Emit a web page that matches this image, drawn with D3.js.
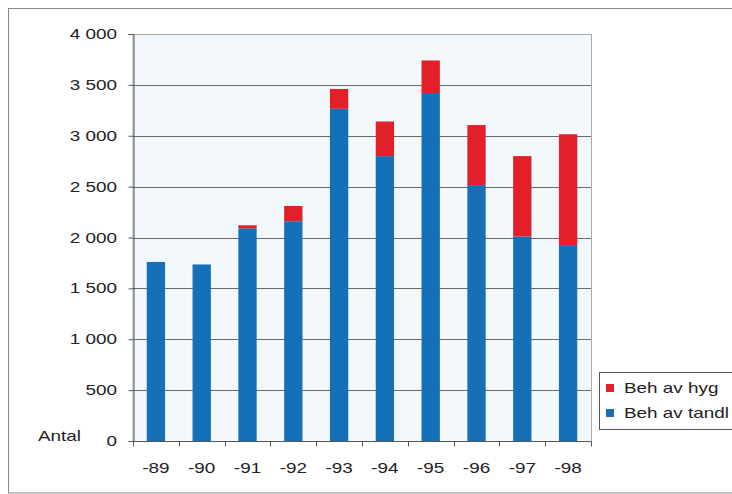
<!DOCTYPE html>
<html>
<head>
<meta charset="utf-8">
<script src="https://cdn.jsdelivr.net/npm/d3@7"></script>
<style>
  html, body { margin: 0; padding: 0; background: #ffffff; }
  svg { display: block; }
  text { font-family: "Liberation Sans", Arial, sans-serif; fill: #222; }
</style>
</head>
<body>
<svg id="chart" width="732" height="494"></svg>
<script>
// Years and the two stacked series (count per year)
const years = ["-89", "-90", "-91", "-92", "-93", "-94", "-95", "-96", "-97", "-98"];
const tandl = [1760, 1735, 2090, 2160, 3265, 2800, 3420, 2515, 2010, 1925];
const hyg   = [0, 0, 30, 150, 195, 340, 320, 590, 790, 1090];
const yTicks = [0, 500, 1000, 1500, 2000, 2500, 3000, 3500, 4000];
const seriesNames = ["Beh av hyg", "Beh av tandl"];
const seriesColors = { tandl: "#1670b8", hyg: "#e2202a" };

const svg = d3.select("#chart");
const plot = { left: 133, right: 591, top: 34, bottom: 441 };
const FONT = 14, STRETCH = 1.35;

// Places a horizontally widened label at (px, py)
function label(parent, px, py, str, anchor) {
  return parent.append("text")
    .attr("transform", `translate(${px},${py}) scale(${STRETCH},1)`)
    .attr("text-anchor", anchor || "start")
    .attr("font-size", FONT)
    .attr("fill", "#2a2a2a")
    .text(str);
}

// Outer chart frame
svg.append("rect")
  .attr("x", 8.5).attr("y", 8.5).attr("width", 760).attr("height", 484.5)
  .attr("fill", "#ffffff").attr("stroke", "#8a8a8a").attr("stroke-width", 1);

const x = d3.scaleBand().domain(years).range([plot.left, plot.right]).paddingInner(0.6).paddingOuter(0.3);
const xb = d3.scaleBand().domain(years).range([plot.left, plot.right]);
const y = d3.scaleLinear().domain([0, 4000]).range([plot.bottom, plot.top]);

// Plot background
svg.append("rect")
  .attr("x", plot.left).attr("y", plot.top + 0.5)
  .attr("width", plot.right - plot.left + 0.5).attr("height", plot.bottom - plot.top)
  .attr("fill", "#f3f8fc").attr("stroke", "#a8a8a8").attr("stroke-width", 1);

// Horizontal gridlines
svg.append("g").selectAll("line")
  .data(yTicks.filter(d => d > 0 && d < 4000))
  .join("line")
  .attr("x1", plot.left).attr("x2", plot.right)
  .attr("y1", d => Math.round(y(d)) + 0.5).attr("y2", d => Math.round(y(d)) + 0.5)
  .attr("stroke", "#6a6a6a").attr("stroke-width", 1.2);

// Stacked bars
const rows = years.map((yr, i) => ({ year: yr, tandl: tandl[i], hyg: hyg[i] }));
const stack = d3.stack().keys(["tandl", "hyg"])(rows);
svg.append("g").selectAll("g")
  .data(stack)
  .join("g")
  .attr("fill", d => seriesColors[d.key])
  .selectAll("rect")
  .data(d => d)
  .join("rect")
  .attr("x", d => x(d.data.year))
  .attr("width", x.bandwidth())
  .attr("y", d => y(d[1]))
  .attr("height", d => y(d[0]) - y(d[1]));

// Y axis (labels drawn separately so they can be widened)
const yAxis = d3.axisLeft(y).tickValues(yTicks).tickSize(5).tickFormat("");
const gy = svg.append("g").attr("transform", `translate(${plot.left + 0.5},0)`).call(yAxis);
gy.select(".domain").attr("stroke", "#555");
gy.selectAll(".tick line").attr("stroke", "#555");
const fmt = d => d3.format(",")(d).replace(",", " ");
yTicks.forEach(v => label(svg, 117, y(v) + 5, fmt(v), "end"));

// X axis: ticks at category boundaries
const gx = svg.append("g").attr("transform", `translate(0,${plot.bottom + 0.5})`);
gx.append("line").attr("x1", plot.left).attr("x2", plot.right).attr("stroke", "#555");
const bounds = years.map(d => xb(d)).concat([plot.right]);
gx.selectAll("line.tk").data(bounds).join("line").attr("class", "tk")
  .attr("x1", d => Math.round(d) + 0.5).attr("x2", d => Math.round(d) + 0.5)
  .attr("y1", 0).attr("y2", 5).attr("stroke", "#555");
years.forEach(d => label(gx, xb(d) + xb.bandwidth() / 2, 31, d, "middle"));

// Axis title
label(svg, 38, 441, "Antal");

// Legend
const lg = svg.append("g");
lg.append("rect").attr("x", 599.5).attr("y", 372.5).attr("width", 150).attr("height", 57)
  .attr("fill", "#ffffff").attr("stroke", "#555");
const legendColors = [seriesColors.hyg, seriesColors.tandl];
seriesNames.forEach((name, i) => {
  lg.append("rect").attr("x", 606).attr("y", 384 + i * 25).attr("width", 8).attr("height", 8)
    .attr("fill", legendColors[i]);
  label(lg, 624, 393 + i * 25, name);
});
</script>
</body>
</html>
